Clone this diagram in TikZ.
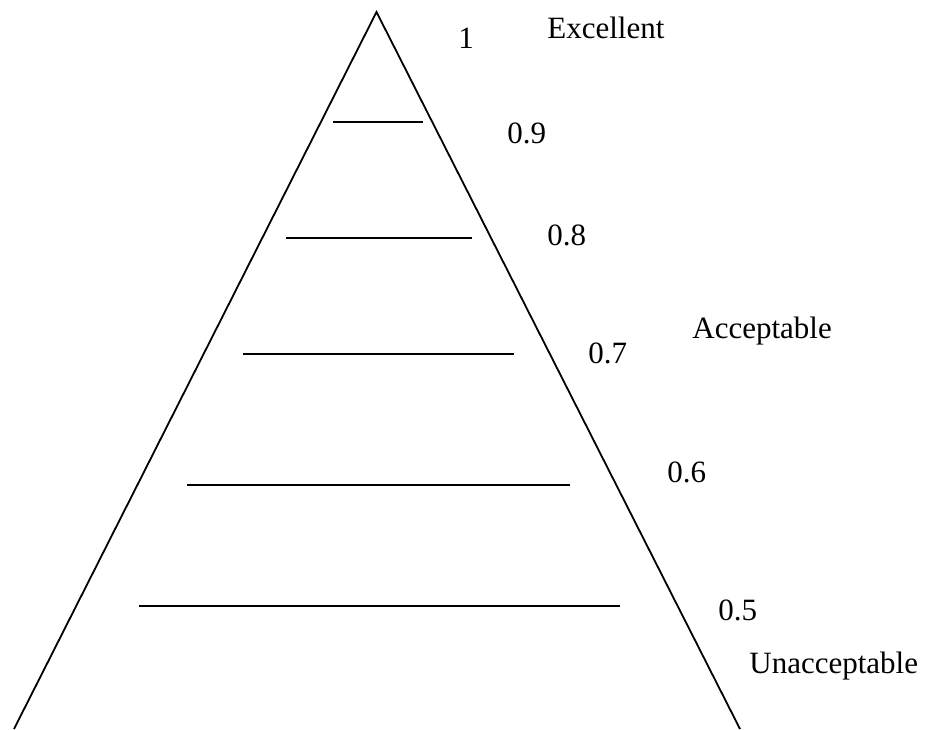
\documentclass[tikz,border=0pt]{standalone}
\usepackage{fontspec}
\setmainfont{Liberation Serif}
\begin{document}
\begin{tikzpicture}[x=0.5pt,y=-0.5pt,
  edge/.style={line width=0.9pt, line join=miter},
  rung/.style={line width=0.9pt},
  lab/.style={anchor=base west, inner sep=0pt, font=\fontsize{15.5}{18}\selectfont}]
\useasboundingbox (0,0) rectangle (926,729);
% triangle
\coordinate (apex) at (376.5,12);
\coordinate (bl) at (14,729);
\coordinate (br) at (740,729);
\draw[edge] (bl) -- (apex) -- (br);
% rungs
\coordinate (r1a) at (333,122); \coordinate (r1b) at (423,122);
\coordinate (r2a) at (286,238); \coordinate (r2b) at (472,238);
\coordinate (r3a) at (243,354); \coordinate (r3b) at (514,354);
\coordinate (r4a) at (187,485); \coordinate (r4b) at (570,485);
\coordinate (r5a) at (139,606); \coordinate (r5b) at (620,606);
\draw[rung] (r1a) -- (r1b);
\draw[rung] (r2a) -- (r2b);
\draw[rung] (r3a) -- (r3b);
\draw[rung] (r4a) -- (r4b);
\draw[rung] (r5a) -- (r5b);
% labels
\node[lab] (one) at (458,48) {1};
\node[lab] (exc) at (547,38) {Excellent};
\node[lab] (n9) at (507,143) {0.9};
\node[lab] (n8) at (547,245) {0.8};
\node[lab] (acc) at (692,338) {Acceptable};
\node[lab] (n7) at (588,363) {0.7};
\node[lab] (n6) at (667,482) {0.6};
\node[lab] (n5) at (718,620) {0.5};
\node[lab] (una) at (749,673) {Unacceptable};
\end{tikzpicture}
\end{document}
